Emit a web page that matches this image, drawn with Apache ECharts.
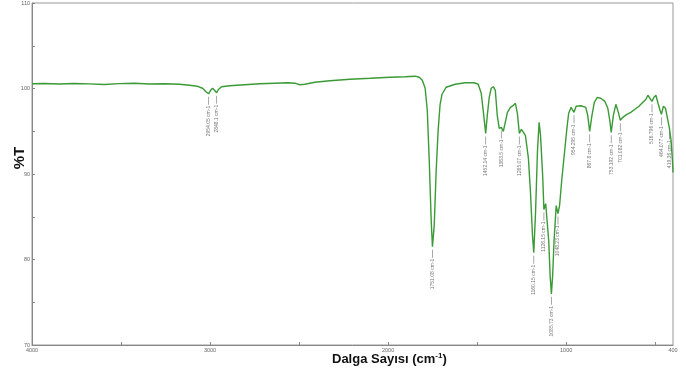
<!DOCTYPE html>
<html>
<head>
<meta charset="utf-8">
<title>FTIR</title>
<script src="https://cdn.jsdelivr.net/npm/echarts@6/dist/echarts.min.js"></script>
<style>
  html, body { margin: 0; padding: 0; background: #fff; }
  #chart { width: 686px; height: 378px; }
</style>
</head>
<body>
<div id="chart"></div>
<script>
// wavenumber (cm-1) and transmittance (%T)
var wavenumbers = [4000, 3932, 3848, 3763, 3679, 3594, 3510, 3425, 3341, 3256, 3172, 3115, 3070, 3042, 3020, 3008, 2997, 2986, 2975, 2963, 2952, 2935, 2890, 2806, 2721, 2637, 2563, 2524, 2496, 2468, 2411, 2327, 2214, 2101, 1989, 1904, 1848, 1825, 1808, 1792, 1780, 1769, 1758, 1751, 1741, 1730, 1719, 1708, 1697, 1674, 1623, 1567, 1517, 1494, 1477, 1466, 1452, 1443, 1432, 1421, 1409, 1398, 1387, 1376, 1364, 1353, 1342, 1330, 1313, 1296, 1285, 1274, 1263, 1251, 1240, 1229, 1212, 1201, 1189, 1182, 1172, 1161, 1152, 1144, 1132, 1125, 1115, 1107, 1098, 1090, 1083, 1076, 1068, 1056, 1046, 1037, 1025, 1011, 997, 986, 972, 956, 944, 918, 890, 879, 868, 856, 842, 825, 806, 783, 766, 755, 747, 735, 721, 707, 696, 682, 659, 637, 614, 591, 569, 552, 541, 530, 518, 507, 496, 484, 473, 465, 454, 442, 431, 420, 411, 403, 400];
var transmittance = [100.56, 100.58, 100.52, 100.59, 100.54, 100.46, 100.57, 100.62, 100.52, 100.56, 100.50, 100.38, 100.26, 100.03, 99.56, 99.38, 99.79, 100.03, 99.79, 99.50, 99.91, 100.21, 100.32, 100.44, 100.56, 100.62, 100.67, 100.62, 100.44, 100.50, 100.73, 100.91, 101.09, 101.20, 101.32, 101.38, 101.44, 101.32, 100.97, 100.03, 97.45, 91.58, 84.55, 81.50, 83.96, 90.41, 95.10, 98.15, 99.33, 100.15, 100.50, 100.67, 100.67, 100.50, 99.44, 97.45, 94.75, 96.86, 98.97, 100.03, 100.21, 99.79, 96.86, 95.34, 95.45, 94.99, 96.04, 97.21, 97.80, 98.03, 98.27, 97.10, 94.75, 95.22, 95.34, 94.52, 91.82, 88.06, 82.78, 80.79, 85.48, 92.76, 96.04, 94.52, 89.82, 85.84, 86.54, 86.31, 82.20, 78.09, 75.98, 78.09, 82.20, 86.31, 85.37, 86.31, 89.24, 92.17, 95.10, 97.10, 97.80, 97.21, 97.92, 97.98, 97.80, 96.86, 94.99, 96.74, 98.39, 98.97, 98.86, 98.50, 97.68, 96.28, 94.87, 96.86, 98.15, 97.21, 96.28, 96.63, 96.98, 97.21, 97.57, 97.92, 98.39, 98.74, 99.21, 99.09, 98.50, 98.97, 99.21, 98.27, 97.45, 96.98, 97.92, 97.68, 96.51, 95.34, 93.93, 91.58, 90.18];

// marked peaks
var peakX = [3008, 2963, 1751, 1452, 1364, 1263, 1182, 1125, 1083, 1046, 956, 868, 747, 696, 518, 465, 420];
var peakY = [99.38, 99.50, 81.50, 94.75, 95.45, 94.75, 80.79, 85.84, 75.98, 85.37, 97.21, 94.99, 94.87, 96.28, 98.50, 96.98, 95.34];
var peakNames = ['2954.05 cm-1', '2848.1 cm-1', '1751.08 cm-1', '1452.14 cm-1', '1363.5 cm-1', '1265.07 cm-1',
  '1160.15 cm-1', '1126.15 cm-1', '1085.73 cm-1', '1048.23 cm-1', '954.295 cm-1', '867.8 cm-1',
  '753.192 cm-1', '701.082 cm-1', '516.796 cm-1', '464.077 cm-1', '419.36 cm-1'];

var xLabelValues = [400, 1000, 2000, 3000, 4000];
var xTickValues = [500, 1000, 1500, 2000, 2500, 3000, 3500, 4000];

var lineData = wavenumbers.map(function (w, i) { return [w, transmittance[i]]; });
var peakData = peakX.map(function (w, i) { return [w, peakY[i]]; });

var chart = echarts.init(document.getElementById('chart'));
chart.setOption({
  animation: false,
  grid: {
    left: 32, right: 13, top: 3, bottom: 33,
    containLabel: false, outerBoundsMode: 'none',
    show: true, borderColor: '#999', borderWidth: 1
  },
  xAxis: {
    type: 'value',
    inverse: true,
    min: 400,
    max: 4000,
    axisLine: { lineStyle: { color: '#888' } },
    axisTick: { inside: true, length: 3, lineStyle: { color: '#888' }, customValues: xTickValues },
    axisLabel: {
      fontSize: 5.5, color: '#666', margin: 2, customValues: xLabelValues, fontFamily: 'Liberation Sans',
      formatter: function (v) { return String(v); }
    },
    splitLine: { show: false }
  },
  yAxis: {
    type: 'value',
    min: 70,
    max: 110,
    interval: 5,
    axisLine: { show: true, lineStyle: { color: '#888' } },
    axisTick: { inside: true, length: 3, lineStyle: { color: '#888' } },
    axisLabel: {
      fontSize: 5.5, color: '#666', margin: 2, fontFamily: 'Liberation Sans',
      formatter: function (v) { return v % 10 === 0 ? String(v) : ''; }
    },
    splitLine: { show: false }
  },
  graphic: [{
    type: 'text',
    x: 20,
    y: 158,
    rotation: Math.PI / 2,
    style: {
      text: '%T',
      align: 'center',
      verticalAlign: 'middle',
      fontSize: 15,
      fontWeight: 'bold',
      fill: '#111',
      fontFamily: 'Liberation Sans'
    }
  }, {
    type: 'text',
    left: 332,
    top: 352,
    style: {
      text: '{a|Dalga Sayısı (cm}{s|-1}{a|)}',
      rich: {
        a: { fontSize: 13, fontWeight: 'bold', fill: '#111', fontFamily: 'Liberation Sans' },
        s: { fontSize: 8, fontWeight: 'bold', fill: '#111', fontFamily: 'Liberation Sans', verticalAlign: 'top', padding: [0, 0, 6, 0] }
      }
    }
  }],
  series: [{
    type: 'line',
    data: lineData,
    showSymbol: false,
    symbol: 'none',
    lineStyle: { color: '#3a9a35', width: 1.4 },
    z: 3
  }, {
    type: 'scatter',
    data: peakData,
    symbol: 'rect',
    symbolSize: [0.8, 8],
    symbolOffset: [0, 7],
    itemStyle: { color: '#777' },
    label: {
      show: true,
      position: 'bottom',
      distance: 1,
      rotate: 90,
      align: 'right',
      verticalAlign: 'middle',
      fontSize: 5,
      color: '#555',
      fontFamily: 'Liberation Sans',
      formatter: function (p) { return peakNames[p.dataIndex]; }
    },
    z: 2
  }]
});
</script>
</body>
</html>
